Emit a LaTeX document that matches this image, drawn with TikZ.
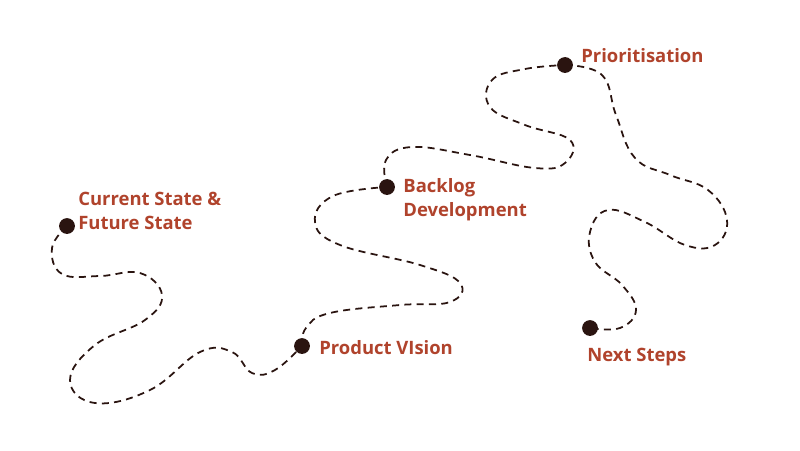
\documentclass[tikz,border=0pt]{standalone}
\usepackage{fontspec}
\setmainfont{Open Sans}
\usetikzlibrary{positioning}
\definecolor{rust}{HTML}{B0432C}
\definecolor{dotc}{HTML}{2A1410}
\begin{document}
\begin{tikzpicture}[x=0.02cm,y=-0.02cm]
  \tikzstyle{stop}=[circle,fill=dotc,inner sep=0pt,minimum size=9pt]
  \tikzstyle{lbl}=[text=rust,font=\fontsize{10.5}{13.5}\selectfont\bfseries,align=left,anchor=west,inner sep=0pt]
  \tikzstyle{route}=[dashed,line width=1pt,dash pattern=on 4pt off 3pt,dotc]
  \useasboundingbox (0,0) rectangle (800,450);
  \node[stop] (current)  at ( 67,226) {};
  \node[stop] (vision)   at (302,346) {};
  \node[stop] (backlog)  at (387,187) {};
  \node[stop] (prior)    at (565, 65) {};
  \node[stop] (next)     at (590,328) {};
  \node[lbl] (current_l) at ( 78,211) {Current State \&\\Future State};
  \node[lbl] (vision_l)  at (319,348) {Product VIsion};
  \node[lbl] (backlog_l) at (403,200) {Backlog\\Development};
  \node[lbl] (prior_l)   at (581, 56) {Prioritisation};
  \node[lbl] (next_l)    at (587,357) {Next Steps};
% the winding road
  \draw[route] plot[smooth,tension=0.7] coordinates {(current) (52,248) (62,274) (100,276) (140,273) (162,295)
    (145,320) (95,345) (70,380) (95,403) (150,390) (200,352) (232,352) (252,373) (275,370) (vision)};
  \draw[route] plot[smooth,tension=0.7] coordinates {(vision) (306,328) (330,313) (400,305) (450,302) (460,283)
    (420,265) (340,245) (315,222) (333,196) (backlog)};
  \draw[route] plot[smooth,tension=0.7] coordinates {(backlog) (386,160) (412,147) (470,155) (535,168) (565,163)
    (570,140) (525,125) (490,107) (492,80) (525,69) (prior)};
  \draw[route] plot[smooth,tension=0.7] coordinates {(prior) (602,75) (616,115) (635,158) (670,175) (708,190)
    (727,220) (715,245) (685,245) (645,222) (608,210) (590,232) (595,262) (622,285) (636,310) (620,328) (next)};
\end{tikzpicture}
\end{document}
